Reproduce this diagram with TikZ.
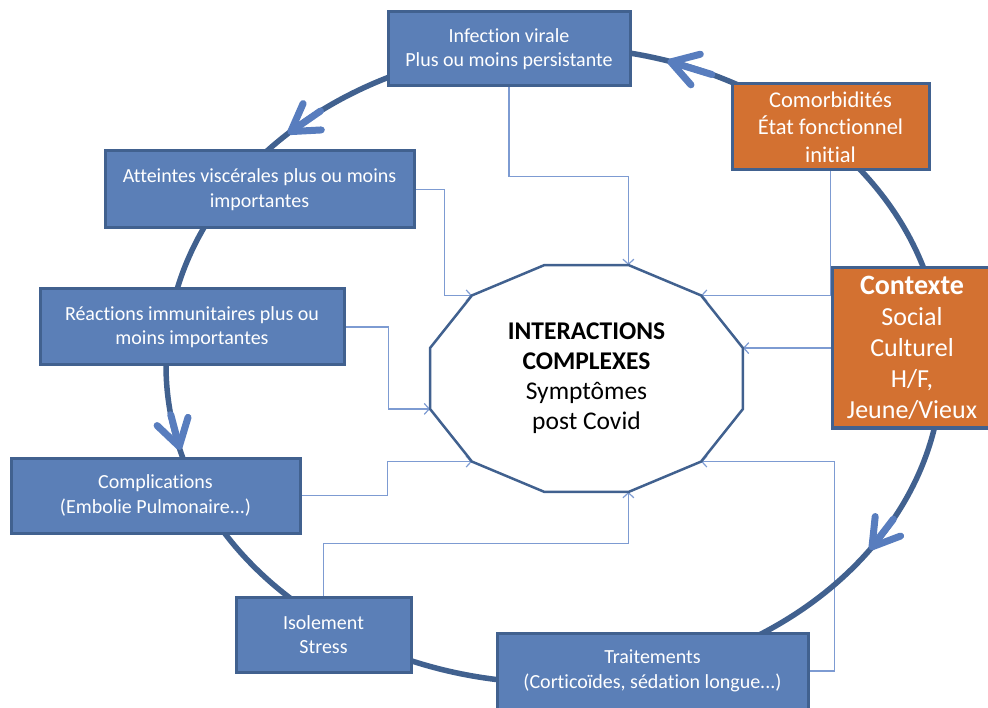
\documentclass[tikz,border=0pt]{standalone}
\usepackage{fontspec}
\setmainfont{Carlito}[Ligatures=NoCommon]
\usetikzlibrary{arrows.meta}

\definecolor{boxblue}{RGB}{91,127,183}
\definecolor{boxorange}{RGB}{211,113,49}
\definecolor{darkline}{RGB}{65,97,143}
\definecolor{linkblue}{RGB}{125,155,210}
\definecolor{tipblue}{RGB}{88,125,190}

\pgfdeclarelayer{background}
\pgfsetlayers{background,main}

\tikzset{
	stage/.style={draw=darkline, line width=3pt, fill=boxblue, text=white,
		inner sep=0pt, align=center, font=\fontsize{20}{24.5}\selectfont},
	factor/.style={stage, fill=boxorange, font=\fontsize{22.5}{27.5}\selectfont},
	link/.style={draw=linkblue, line width=1.2pt, -{Straight Barb[length=5pt,width=11pt]}},
	turn/.style={draw=tipblue, line width=7pt, line cap=round,
		-{Straight Barb[length=26pt,width=32pt,round]}}
}

\begin{document}
\begin{tikzpicture}[x=1pt, y=-1pt]
	\useasboundingbox (0,0) rectangle (988,708);

	%polygon corners
	\begin{scope}[shift={(586.5,378.5)}]
		\foreach \k in {0,...,11}
			\coordinate (v\k) at ({15+30*\k}:162 and 117.5);
	\end{scope}

	%nodes
	\node[stage, minimum width=242, minimum height=74] (infection) at (509,49)
		{Infection virale\\Plus ou moins persistante};
	\node[factor, minimum width=197, minimum height=86] (comorb) at (830.5,127)
		{Comorbidités\\État fonctionnel\\initial};
	\node[stage, minimum width=309, minimum height=77] (atteintes) at (259.5,189.5)
		{Atteintes viscérales plus ou moins\\importantes};
	\node[stage, minimum width=304, minimum height=76] (reactions) at (192,327)
		{Réactions immunitaires plus ou\\moins importantes};
	\node[stage, minimum width=289, minimum height=75] (complic) at (155.5,495.5)
		{Complications\\(Embolie Pulmonaire...)};
	\node[stage, minimum width=175, minimum height=75] (isolement) at (323.5,634.5)
		{Isolement\\Stress};
	\node[stage, minimum width=311, minimum height=76] (traitements) at (652.5,671)
		{Traitements\\(Corticoïdes, sédation longue...)};
	\node[factor, minimum width=160, minimum height=160,
		font=\fontsize{26}{31}\selectfont] (contexte) at (912,348)
		{{\fontsize{28}{31}\selectfont\bfseries Contexte}\\Social\\Culturel\\H/F,\\Jeune/Vieux};

	\begin{pgfonlayer}{background}
		%links
		\draw[link] (infection.south) -- ++(0,89) -| (v9);
		\draw[link] (atteintes.east) -- ++(29,0) |- (v7);
		\draw[link] (reactions.east) -- ++(43,0) |- (v5);
		\draw[link] (complic.east) -- ++(86,0) |- (v4);
		\draw[link] (isolement.north) -- ++(0,-52) -| (v2);
		\draw[link] (traitements.east) -- ++(25,0) |- (v1);
		\draw[link] (comorb.south) |- (v10);
		\draw[link] (contexte.west |- v11) -- (v11);

		%ring
		\draw[darkline, line width=5.5pt] (554,365) ellipse (388 and 318);
	\end{pgfonlayer}

	%arrow heads on the ring
	\begin{scope}[shift={(554,365)}]
		\foreach \a/\b in {-66/-73, -127/-133.3, 171/164.5, 29/35.5}
			\draw[turn] (\a:388 and 318) -- (\b:388 and 318);
	\end{scope}

	%centre
	\draw[darkline, line width=2.5pt] (v0) \foreach \k in {1,...,11}{ -- (v\k)} -- cycle;
	\node[align=center, font=\fontsize{25.5}{30}\selectfont] (centre) at (586.5,378.5)
		{\textbf{INTERACTIONS}\\\textbf{COMPLEXES}\\Symptômes\\post Covid};

\end{tikzpicture}
\end{document}
